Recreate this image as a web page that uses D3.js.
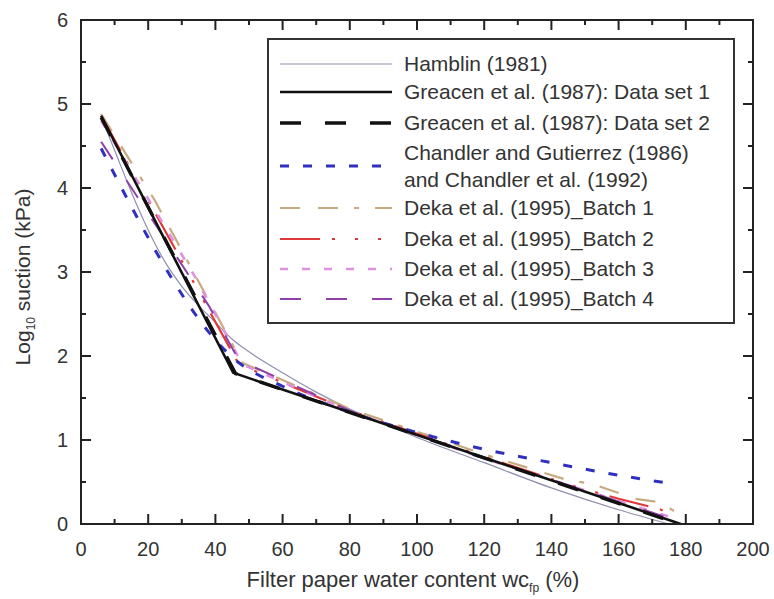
<!DOCTYPE html>
<html lang="en">
  <head>
    <meta charset="utf-8">
    <title>Filter paper calibration curves</title>
    <script type="text/javascript" src="https://d3js.org/d3.v7.min.js"></script>
    <style type="text/css">
      body { margin: 0; background: #fff; }
      text { font-family: "Liberation Sans", Arial, sans-serif; fill: #333; }
      .frame line, .frame rect { stroke: #222; }
    </style>
  </head>
  <body>
    <script type="text/javascript">
      var w = 774, h = 599;
      var marginLeft = 81, marginRight = 21, marginTop = 20, marginDown = 75;

      // ticks
      var xTicks = [0, 20, 40, 60, 80, 100, 120, 140, 160, 180, 200];
      var yTicks = [0, 1, 2, 3, 4, 5, 6];

      // series (water content %, log10 suction kPa)
      var hamblinX = [6, 10, 15, 20, 25, 30, 35, 40, 45, 50, 60, 70, 80, 90, 100, 120, 140, 160, 175];
      var hamblinY = [4.85, 4.45, 3.95, 3.5, 3.12, 2.83, 2.6, 2.4, 2.2, 2.05, 1.8, 1.57, 1.37, 1.2, 1.03, 0.73, 0.43, 0.17, 0.0];

      var greacen1X = [6, 45.3, 178.5];
      var greacen1Y = [4.86, 1.8, 0.0];

      var greacen2X = [6, 46, 178];
      var greacen2Y = [4.84, 1.79, 0.0];

      var chandlerX = [6, 47, 60, 80, 100, 120, 140, 160, 176];
      var chandlerY = [4.47, 1.92, 1.64, 1.33, 1.09, 0.89, 0.73, 0.58, 0.48];

      var batch1X = [6, 22, 48, 80, 120, 145, 152, 165, 172, 178];
      var batch1Y = [4.88, 3.85, 1.92, 1.37, 0.83, 0.52, 0.48, 0.3, 0.26, 0.12];

      var batch2X = [6, 26, 47, 80, 120, 145, 160, 172, 178];
      var batch2Y = [4.86, 3.42, 1.9, 1.35, 0.8, 0.47, 0.3, 0.18, 0.08];

      var batch3X = [6, 34, 48, 80, 120, 150, 178];
      var batch3Y = [4.8, 2.94, 1.9, 1.34, 0.78, 0.4, 0.05];

      var batch4X = [6, 38, 47, 80, 120, 150, 178];
      var batch4Y = [4.55, 2.6, 1.95, 1.35, 0.78, 0.4, 0.03];

      var seriesNames = ["Hamblin (1981)", "Greacen et al. (1987): Data set 1", "Greacen et al. (1987): Data set 2",
        "Chandler and Gutierrez (1986)|and Chandler et al. (1992)", "Deka et al. (1995)_Batch 1",
        "Deka et al. (1995)_Batch 2", "Deka et al. (1995)_Batch 3", "Deka et al. (1995)_Batch 4"];

      var styles = [
        {color: "#9090b0", width: 1.2, dash: null, curve: true},
        {color: "#111", width: 2.6, dash: null},
        {color: "#111", width: 3.4, dash: "21,24"},
        {color: "#3030c0", width: 3, dash: "9,14", curve: true},
        {color: "#c8aa80", width: 2.2, dash: "20,18,20,16,5,16"},
        {color: "#e03838", width: 2.2, dash: "40,12,3,20,3,20,3,12"},
        {color: "#e090e0", width: 2.6, dash: "8,14"},
        {color: "#9040a8", width: 2, dash: "21,25"}
      ];

      var allX = [hamblinX, greacen1X, greacen2X, chandlerX, batch1X, batch2X, batch3X, batch4X];
      var allY = [hamblinY, greacen1Y, greacen2Y, chandlerY, batch1Y, batch2Y, batch3Y, batch4Y];

      var svg = d3.select("body").append("svg").attr("width", w).attr("height", h);

      var xScale = d3.scaleLinear().domain([0, 200]).range([marginLeft, w - marginRight]);
      var yScale = d3.scaleLinear().domain([0, 6]).range([h - marginDown, marginTop]);

      // draw the curves; draw order puts the black lines on top
      var order = [0, 4, 5, 6, 7, 3, 2, 1];
      order.forEach(function(i) {
        var pts = allX[i].map(function(x, j) { return [x, allY[i][j]]; });
        var line = d3.line()
          .x(function(d) { return xScale(d[0]); })
          .y(function(d) { return yScale(d[1]); })
          .curve(styles[i].curve ? d3.curveMonotoneX : d3.curveLinear);
        svg.append("path")
          .attr("d", line(pts))
          .attr("fill", "none")
          .attr("stroke", styles[i].color)
          .attr("stroke-width", styles[i].width)
          .attr("stroke-dasharray", styles[i].dash);
      });

      // frame with inward ticks on all sides
      var frame = svg.append("g").attr("class", "frame");
      var x0 = xScale(0), x1 = xScale(200), y0 = yScale(0), y1 = yScale(6);

      d3.range(0, 201, 10).forEach(function(v) {
        var len = v % 20 === 0 ? 10 : 5;
        frame.append("line").attr("x1", xScale(v)).attr("x2", xScale(v)).attr("y1", y0).attr("y2", y0 - len).attr("stroke-width", 2);
        frame.append("line").attr("x1", xScale(v)).attr("x2", xScale(v)).attr("y1", y1).attr("y2", y1 + len).attr("stroke-width", 2);
      });
      d3.range(0, 6.01, 0.5).forEach(function(v) {
        var len = v % 1 === 0 ? 10 : 5;
        frame.append("line").attr("y1", yScale(v)).attr("y2", yScale(v)).attr("x1", x0).attr("x2", x0 + len).attr("stroke-width", 2);
        frame.append("line").attr("y1", yScale(v)).attr("y2", yScale(v)).attr("x1", x1).attr("x2", x1 - len).attr("stroke-width", 2);
      });
      frame.append("rect").attr("x", x0).attr("y", y1).attr("width", x1 - x0).attr("height", y0 - y1)
        .attr("fill", "none").attr("stroke-width", 2);

      // tick labels
      svg.selectAll(".xlab").data(xTicks).enter().append("text")
        .attr("x", function(d) { return xScale(d); })
        .attr("y", y0 + 32)
        .attr("text-anchor", "middle")
        .style("font-size", "20px")
        .text(function(d) { return d; });
      svg.selectAll(".ylab").data(yTicks).enter().append("text")
        .attr("x", x0 - 13)
        .attr("y", function(d) { return yScale(d) + 7; })
        .attr("text-anchor", "end")
        .style("font-size", "20px")
        .text(function(d) { return d; });

      // axis titles
      var xt = svg.append("text").attr("x", (x0 + x1) / 2 - 4).attr("y", h - 12)
        .attr("text-anchor", "middle").style("font-size", "22px");
      xt.append("tspan").text("Filter paper water content wc");
      xt.append("tspan").attr("dy", 5).style("font-size", "12px").text("fp");
      xt.append("tspan").attr("dy", -5).text(" (%)");

      var yt = svg.append("text").attr("transform", "translate(30," + ((y0 + y1) / 2 + 5) + ") rotate(-90)")
        .attr("text-anchor", "middle").style("font-size", "21px");
      yt.append("tspan").text("Log");
      yt.append("tspan").attr("dy", 5).style("font-size", "12px").text("10");
      yt.append("tspan").attr("dy", -5).text(" suction (kPa)");

      // legend
      var legend = svg.append("g");
      legend.append("rect").attr("x", 268).attr("y", 39).attr("width", 466).attr("height", 284)
        .attr("fill", "#fff").attr("stroke", "#333").attr("stroke-width", 2);
      var rowY = [64, 92, 123, 166, 208, 239, 269, 299];
      seriesNames.forEach(function(name, i) {
        legend.append("line").attr("x1", 280).attr("x2", 392).attr("y1", rowY[i]).attr("y2", rowY[i])
          .attr("stroke", styles[i].color).attr("stroke-width", styles[i].width)
          .attr("stroke-dasharray", styles[i].dash);
        var parts = name.split("|");
        parts.forEach(function(p, k) {
          var ty = parts.length > 1 ? rowY[i] - 13 + k * 27 : rowY[i];
          legend.append("text").attr("x", 404).attr("y", ty + 7).style("font-size", "21px").text(p);
        });
      });
    </script>
  </body>
</html>
